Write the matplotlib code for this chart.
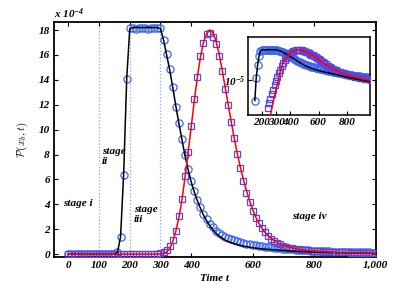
import numpy as np
import matplotlib
matplotlib.use("Agg")
import matplotlib.pyplot as plt

plt.rcParams['font.family'] = ['Liberation Serif', 'DejaVu Serif']
plt.rcParams['mathtext.fontset'] = 'custom'
plt.rcParams['mathtext.rm'] = 'Liberation Serif:bold:italic'
plt.rcParams['mathtext.it'] = 'Liberation Serif:bold:italic'
plt.rcParams['mathtext.bf'] = 'Liberation Serif:bold:italic'

# time grid (every 10 units)
t = np.arange(0, 1001, 10)

# values in units of 1e-4
black_line = [0]*15 + [0.003, 0.15, 1.4, 6.4, 14.1, 18.1,
    18.2, 18.2, 18.2, 18.2, 18.2, 18.2, 18.2, 18.2, 18.2, 18.1,
    17.2, 16.0, 14.8, 13.4, 11.9, 10.5, 9.2, 7.9, 6.8, 5.8,
    5.0, 4.3, 3.7, 3.15, 2.7, 2.3, 1.98, 1.7, 1.48, 1.3,
    1.15, 1.02, 0.92, 0.84, 0.77, 0.71, 0.65, 0.6, 0.56, 0.52,
    0.49, 0.46, 0.43, 0.41, 0.39, 0.37, 0.35, 0.33, 0.31, 0.29,
    0.28, 0.265, 0.25, 0.24, 0.225, 0.215, 0.2, 0.19, 0.18, 0.17,
    0.16, 0.152, 0.145, 0.138, 0.131, 0.125, 0.119, 0.113, 0.108, 0.103,
    0.098, 0.094, 0.09, 0.086, 0.082, 0.079, 0.076, 0.073, 0.07, 0.068]

black_sim = [0]*15 + [0.003, 0.15, 1.41, 6.36, 14.1, 18.2,
    18.15, 18.1, 18.2, 18.15, 18.2, 18.1, 18.2, 18.15, 18.2, 18.2,
    17.2, 16.05, 14.85, 13.4, 11.8, 10.5, 9.25, 8.0, 6.85, 5.9,
    5.05, 4.38, 3.8, 3.25, 2.8, 2.45, 2.15, 1.9, 1.7, 1.55,
    1.42, 1.3, 1.2, 1.1, 1.02, 0.96, 0.9, 0.84, 0.79, 0.74,
    0.7, 0.66, 0.63, 0.6, 0.57, 0.54, 0.51, 0.49, 0.46, 0.44,
    0.42, 0.4, 0.38, 0.36, 0.35, 0.33, 0.32, 0.3, 0.29, 0.27,
    0.26, 0.25, 0.24, 0.23, 0.22, 0.21, 0.2, 0.195, 0.19, 0.18,
    0.175, 0.17, 0.165, 0.16, 0.15, 0.145, 0.14, 0.137, 0.133, 0.13]

red_line = [0]*25 + [0.00008, 0.00025, 0.0008, 0.0025, 0.007, 0.02,
    0.06, 0.17, 0.45, 1.0, 1.85, 2.95, 4.35, 6.2, 8.15, 10.2,
    12.3, 14.2, 15.8, 17.0, 17.7, 18.0, 17.8, 17.2, 16.2, 14.9,
    13.5, 12.1, 10.7, 9.35, 8.1, 7.0, 6.0, 5.1, 4.3, 3.6,
    3.0, 2.5, 2.1, 1.77, 1.5, 1.27, 1.08, 0.93, 0.8, 0.7,
    0.62, 0.55, 0.49, 0.44, 0.4, 0.36, 0.33, 0.3, 0.28, 0.26,
    0.24, 0.22, 0.21, 0.195, 0.18, 0.17, 0.16, 0.15, 0.14, 0.13,
    0.125, 0.118, 0.112, 0.106, 0.1, 0.096, 0.092, 0.088, 0.084, 0.08]

red_sim = [0]*24 + [0.0008, 0.002, 0.004, 0.009, 0.017, 0.04, 0.09,
    0.18, 0.33, 0.62, 1.15, 1.9, 3.07, 4.44, 6.31, 8.19, 10.3,
    12.44, 14.23, 15.9, 16.93, 17.65, 17.8, 17.46, 16.88, 15.9, 14.7,
    13.3, 12.0, 10.6, 9.36, 8.02, 6.95, 5.88, 4.94, 4.17, 3.5,
    2.94, 2.49, 2.09, 1.77, 1.49, 1.23, 1.05, 0.9, 0.78, 0.68,
    0.6, 0.53, 0.47, 0.42, 0.38, 0.35, 0.32, 0.3, 0.28, 0.26,
    0.24, 0.225, 0.21, 0.2, 0.19, 0.18, 0.17, 0.16, 0.152, 0.145,
    0.14, 0.133, 0.127, 0.122, 0.117, 0.112, 0.108, 0.104, 0.1, 0.097]

stage_bounds = [100, 200, 300]
xtick_vals = [0, 100, 200, 300, 400, 600, 800, 1000]
xtick_labels = ['0', '100', '200', '300', '400', '600', '800', '1,000']
inset_xticks = [200, 300, 400, 600, 800]

black_line = np.array(black_line)
black_sim = np.array(black_sim)
red_line = np.array(red_line)
red_sim = np.array(red_sim)

c_circ = '#3a66f2'
c_sq = '#5a44e6'
fs = 8

fig = plt.figure(figsize=(4.15, 2.9), dpi=100)
ax = fig.add_axes([0.130, 0.114, 0.776, 0.810])

for b in stage_bounds:
    ax.axvline(b, color='#8fa0ee', ls=':', lw=0.9, zorder=1)

ax.plot(t, black_sim, 'o', mfc='none', mec=c_circ, ms=5.2, mew=0.9, zorder=2)
ax.plot(t, red_sim, 's', mfc='none', mec=c_sq, ms=4.2, mew=0.9, zorder=3)
ax.plot(t, black_line, '-', color='black', lw=1.1, zorder=4)
ax.plot(t, red_line, '-', color='red', lw=1.1, zorder=5)

ax.set_xlim(-47, 1002)
ax.set_ylim(-0.22, 18.64)
ax.set_xticks(xtick_vals)
ax.set_xticklabels(xtick_labels)
ax.set_yticks(range(0, 19, 2))
ax.tick_params(direction='in', top=True, right=True, length=3, width=0.8,
               labelsize=fs, pad=3)
for lab in ax.get_xticklabels() + ax.get_yticklabels():
    lab.set_fontweight('bold')
    lab.set_fontstyle('italic')
for s in ax.spines.values():
    s.set_linewidth(1.3)

ax.set_xlabel('Time t', fontsize=fs, fontweight='bold', fontstyle='italic', labelpad=3)
ax.set_ylabel(r'$\mathcal{P}(x_b,t)$', fontsize=fs, math_fontfamily='cm', labelpad=6)
ax.text(0, 1.005, r'x 10$^{-4}$', transform=ax.transAxes, fontsize=fs,
        fontweight='bold', fontstyle='italic', va='bottom', ha='left')

tkw = dict(fontsize=fs, fontweight='bold', fontstyle='italic', linespacing=1.05)
ax.text(-18, 4.1, 'stage i', va='center', ha='left', **tkw)
ax.text(109, 7.85, 'stage\nii', va='center', ha='left', **tkw)
ax.text(213, 3.2, 'stage\niii', va='center', ha='left', **tkw)
ax.text(730, 3.0, 'stage iv', va='center', ha='left', **tkw)

# inset on log scale
axi = fig.add_axes([0.598, 0.603, 0.294, 0.270])
axi.plot(t, black_sim*1e-4, 'o', mfc='none', mec=c_circ, ms=5.2, mew=0.9, zorder=2)
axi.plot(t, red_sim*1e-4, 's', mfc='none', mec=c_sq, ms=4.2, mew=0.9, zorder=3)
axi.plot(t, black_line*1e-4, '-', color='black', lw=1.1, zorder=4)
axi.plot(t, red_line*1e-4, '-', color='red', lw=1.1, zorder=5)
axi.set_yscale('log', nonpositive='mask')
axi.set_xlim(103, 965)
axi.set_ylim(2.45e-8, 1.7e-2)
axi.set_xticks(inset_xticks)
axi.set_xticklabels([str(v) for v in inset_xticks])
axi.set_yticks([1e-5])
axi.set_yticklabels([r'$10^{-5}$'])
axi.yaxis.set_minor_locator(matplotlib.ticker.NullLocator())
axi.tick_params(direction='in', length=3, width=0.8, labelsize=fs, pad=2)
for lab in axi.get_xticklabels():
    lab.set_fontweight('bold')
    lab.set_fontstyle('italic')
for s in axi.spines.values():
    s.set_linewidth(1.1)

fig.savefig('out.png', dpi=100)
